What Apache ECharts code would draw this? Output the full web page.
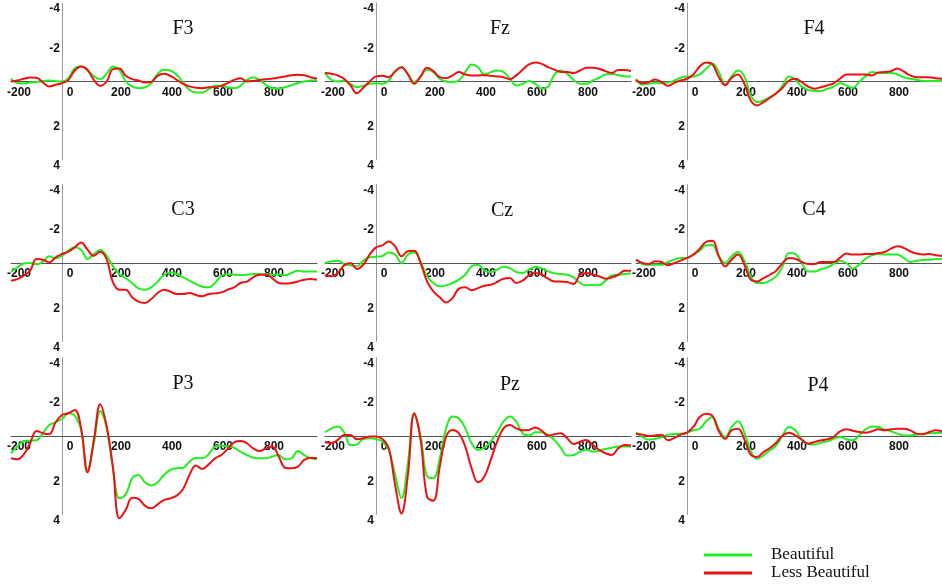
<!DOCTYPE html>
<html>
<head>
<meta charset="utf-8">
<script src="https://cdn.jsdelivr.net/npm/echarts@6/dist/echarts.min.js"></script>
<style>
  html, body { margin: 0; padding: 0; background: #fff; }
  #chart { width: 942px; height: 584px; }
</style>
</head>
<body>
<div id="chart"></div>
<script>
// time points (ms)
var times = [-200, -175, -150, -125, -100, -75, -50, -25, 0, 25, 50, 75, 100, 125, 150, 175, 200, 225, 250, 275, 300, 325, 350, 375, 400,
  425, 450, 475, 500, 525, 550, 575, 600, 625, 650, 675, 700, 725, 750, 775, 800, 825, 850, 875, 900, 925, 950, 975, 1000];
var xTicks = [-200, 0, 200, 400, 600, 800];
var yTicks = [-4, -2, 2, 4];
var groups = ['Beautiful', 'Less Beautiful'];

// amplitudes (uV)
var f3Beautiful = [-0.15,0.08,0.1,0.05,0.02,-0.03,-0.05,-0.02,0,-0.17,-0.68,-0.77,-0.56,-0.26,-0.12,-0.39,-0.77,-0.6,0,0.25,0.34,0.31,0.08,-0.39,-0.6,-0.56,-0.34,0.05,0.43,0.56,0.56,0.39,0.22,0.22,0.29,0.34,0.22,-0.08,-0.22,-0.08,0.17,0.34,0.36,0.29,0.19,0.08,0,-0.05,-0.07];
var f3Less = [0,-0.05,-0.14,-0.2,-0.19,0.05,0.25,0.17,0.08,-0.08,-0.56,-0.77,-0.6,-0.08,0.22,0,-0.63,-0.66,-0.29,-0.12,-0.05,0.05,0.02,-0.29,-0.39,-0.29,-0.08,0.12,0.25,0.32,0.34,0.29,0.29,0.22,0.08,-0.08,-0.17,0,-0.03,-0.08,-0.12,-0.15,-0.2,-0.26,-0.32,-0.34,-0.32,-0.22,-0.15];
var fzBeautiful = [-0.43,-0.09,0,-0.05,0.12,0.29,0.22,0.12,0.09,0.12,-0.05,-0.53,-0.73,-0.39,0.03,-0.26,-0.61,-0.48,-0.14,0,0.03,-0.05,-0.48,-0.87,-0.73,-0.36,-0.48,-0.56,-0.49,-0.14,0.2,0.12,-0.02,0.12,0.37,0.26,-0.36,-0.56,-0.39,-0.09,0.12,0.12,-0.05,-0.19,-0.36,-0.39,-0.32,-0.27,-0.26];
var fzLess = [-0.43,-0.39,-0.31,-0.14,0.2,0.6,0.32,0,-0.26,-0.29,-0.22,-0.51,-0.73,-0.36,0.12,-0.26,-0.7,-0.53,-0.22,-0.17,-0.31,-0.48,-0.36,-0.31,-0.31,-0.32,-0.29,-0.26,-0.22,-0.12,-0.31,-0.6,-0.87,-0.97,-0.9,-0.73,-0.6,-0.49,-0.48,-0.43,-0.56,-0.7,-0.7,-0.65,-0.53,-0.44,-0.59,-0.59,-0.53];
var f4Beautiful = [-0.12,0.15,0.12,0.07,0.09,0.05,-0.05,-0.19,-0.26,-0.26,-0.36,-0.65,-0.9,-0.48,0.15,-0.26,-0.56,-0.26,0.71,1.05,0.97,0.8,0.6,0.2,-0.26,-0.09,0.26,0.43,0.48,0.49,0.37,0.26,0.09,0.2,0.32,0.03,-0.26,-0.49,-0.43,-0.44,-0.44,-0.36,-0.22,-0.14,-0.09,-0.03,-0.03,-0.02,-0.02];
var f4Less = [-0.09,0.09,0.03,-0.1,0.03,0.22,0.07,-0.05,-0.14,-0.36,-0.77,-0.97,-0.87,-0.22,0.19,-0.19,-0.36,0.12,0.97,1.22,1.05,0.83,0.6,0.32,-0.05,-0.14,0.03,0.26,0.37,0.29,0.2,0.09,-0.14,-0.36,-0.36,-0.36,-0.36,-0.31,-0.46,-0.48,-0.53,-0.66,-0.51,-0.31,-0.22,-0.22,-0.22,-0.17,-0.14];
var c3Beautiful = [0.45,0.22,0.02,0,0.07,-0.07,-0.34,-0.24,-0.37,-0.63,-0.8,-0.68,-0.2,-0.46,-0.68,-0.37,0.17,0.56,0.78,1.02,1.29,1.36,1.24,0.95,0.61,0.48,0.56,0.73,0.9,1.07,1.21,1.24,1.02,0.65,0.58,0.6,0.61,0.6,0.56,0.56,0.58,0.6,0.58,0.63,0.51,0.39,0.44,0.44,0.43];
var c3Less = [0.9,0.82,0.65,0.39,-0.2,-0.17,-0.03,-0.29,-0.46,-0.58,-0.8,-1.05,-0.68,-0.37,-0.58,-0.2,0.99,1.36,1.36,1.75,1.97,2.04,1.84,1.53,1.36,1.46,1.58,1.58,1.53,1.63,1.7,1.58,1.55,1.5,1.36,1.24,1.02,0.95,0.73,0.6,0.6,0.78,1.02,1.05,1.02,0.94,0.85,0.82,0.85];
var czBeautiful = [0,-0.09,-0.12,0.05,0.12,0.17,-0.12,-0.29,-0.32,-0.36,-0.53,-0.43,0,-0.43,-0.53,-0.05,0.68,1.02,1.19,1.14,1.02,0.85,0.6,0.17,0.09,0.39,0.46,0.34,0.19,0.26,0.46,0.51,0.34,0.2,0.26,0.43,0.53,0.56,0.6,0.73,1.02,1.14,1.11,1.14,0.9,0.63,0.6,0.56,0.54];
var czLess = [0.6,0.68,0.51,0.12,0,0.31,0.09,-0.43,-0.8,-0.9,-1.1,-0.85,-0.34,-0.6,-0.63,0,0.94,1.45,1.75,2.01,1.79,1.31,1.24,1.39,1.28,1.16,1.11,0.97,0.8,0.77,1.02,0.9,0.63,0.51,0.6,0.8,0.94,0.94,0.97,1.07,0.6,0.51,0.6,0.68,0.8,0.73,0.6,0.39,0.39];
var c4Beautiful = [-0.17,0.05,0.09,0.09,0.09,-0.05,-0.17,-0.26,-0.26,-0.43,-0.63,-0.9,-0.9,-0.34,0,-0.34,-0.56,-0.12,0.68,1.02,1.02,0.9,0.68,0.17,-0.51,-0.46,0,0.43,0.43,0.32,0.22,0.05,-0.12,0,0.29,0.09,-0.22,-0.39,-0.46,-0.43,-0.43,-0.43,-0.26,-0.05,-0.12,-0.15,-0.17,-0.19,-0.2];
var c4Less = [-0.17,0,0.05,-0.09,-0.05,0.12,0,-0.12,-0.26,-0.43,-0.73,-1.08,-1.13,-0.34,0.17,-0.17,-0.43,0.09,0.85,0.94,0.77,0.6,0.39,0,-0.26,-0.22,-0.05,0.05,0.05,-0.05,-0.05,-0.05,-0.26,-0.49,-0.43,-0.43,-0.46,-0.46,-0.51,-0.56,-0.73,-0.85,-0.77,-0.6,-0.48,-0.43,-0.46,-0.39,-0.36];
var p3Beautiful = [0.88,0.54,0.26,0.24,0.22,-0.14,-0.56,-0.7,-0.87,-1.16,-1.04,-0.31,1.73,0.37,-1.28,-0.43,1.65,3.18,2.98,2.16,1.99,2.36,2.53,2.36,1.99,1.73,1.65,1.62,1.31,1.11,1.14,0.94,0.54,0.49,0.54,0.6,0.8,0.97,1.11,1.14,1.14,1.05,0.97,1.19,1.14,0.77,0.97,1.14,1.17];
var p3Less = [1.14,1.19,0.94,0.37,-0.26,-0.14,-0.09,-0.7,-1.07,-1.16,-1.33,-0.39,1.85,0.2,-1.62,-0.5,1.62,4.2,3.77,3.15,3.21,3.55,3.69,3.49,3.27,3.18,3.04,2.7,1.99,1.51,1.68,1.45,1.14,0.97,0.66,0.32,0.26,0.37,0.63,0.77,0.63,0.54,1.05,1.62,1.65,1.56,1.22,1.11,1.14];
var pzBeautiful = [-0.19,-0.39,-0.48,-0.19,0.46,0.43,0.15,0.12,0.15,0.29,0.71,1.99,3.18,1.4,-1.07,0,2.05,2.15,1.14,-0.39,-0.99,-0.9,-0.39,0.37,0.71,0.6,0.29,-0.19,-0.73,-0.99,-0.73,-0.14,-0.02,-0.19,-0.19,-0.05,0.2,0.6,1.0,0.97,0.8,0.7,0.8,0.75,0.66,0.6,0.54,0.54,0.54];
var pzLess = [0.29,0.37,0.2,-0.05,-0.05,0.17,0.12,0.03,0.03,0.15,0.63,2.5,3.95,2.0,-1.16,0.2,3.1,3.3,1.56,0.03,-0.31,-0.14,0.54,1.65,2.36,2.07,1.22,0.29,-0.39,-0.56,-0.39,-0.29,-0.31,-0.43,-0.26,-0.02,-0.09,-0.14,0.12,0.41,0.29,0.2,0.46,0.71,0.88,0.97,0.63,0.46,0.49];
var p4Beautiful = [-0.17,0.05,0.19,0.14,0.07,-0.07,-0.1,-0.12,-0.17,-0.29,-0.37,-0.75,-0.97,-0.34,0.05,-0.46,-0.75,-0.17,0.78,1.16,0.99,0.73,0.48,-0.03,-0.46,-0.29,0.17,0.41,0.44,0.34,0.27,0.14,0.05,0.17,0.22,-0.03,-0.34,-0.49,-0.46,-0.34,-0.24,-0.12,-0.03,-0.03,-0.07,-0.12,-0.14,-0.15,-0.17];
var p4Less = [-0.12,-0.07,0,-0.03,-0.07,0.22,0.1,-0.07,-0.17,-0.46,-0.97,-1.14,-1.02,-0.24,0.14,-0.29,-0.37,0.17,0.95,1.07,0.82,0.61,0.34,-0.03,-0.17,-0.03,0.19,0.39,0.31,0.22,0.17,0.05,-0.24,-0.34,-0.27,-0.2,-0.17,-0.24,-0.34,-0.29,-0.34,-0.37,-0.37,-0.29,-0.12,-0.09,-0.2,-0.29,-0.24];

var electrodes = ['F3', 'Fz', 'F4', 'C3', 'Cz', 'C4', 'P3', 'Pz', 'P4'];
var beautifulData = [f3Beautiful, fzBeautiful, f4Beautiful, c3Beautiful, czBeautiful, c4Beautiful, p3Beautiful, pzBeautiful, p4Beautiful];
var lessData = [f3Less, fzLess, f4Less, c3Less, czLess, c4Less, p3Less, pzLess, p4Less];

// layout (px)
var axisX = [62, 376, 687];      // where time 0 sits in each column
var zeroY = [81.5, 263, 436];    // where 0 uV sits in each row
var pxPerMs = 0.255, pxPerUv = 19.6;
var titleX = [183, 500, 814, 183, 502, 814, 183, 510, 818];
var titleY = [29, 29, 29, 210, 211, 210, 384, 385, 386];
var green = '#22ee22', red = '#ee1111';
var labelFont = { color: '#111', fontSize: 12, fontWeight: 'bold', fontFamily: 'Liberation Sans, Arial, sans-serif' };

var chart = echarts.init(document.getElementById('chart'));

var grids = [], xAxes = [], yAxes = [], series = [], titles = [];
var leftPx = -times[0] * pxPerMs;   // distance from grid left to time 0
electrodes.forEach(function (name, i) {
  var col = i % 3, row = Math.floor(i / 3);
  grids.push({
    left: axisX[col] - leftPx,
    width: (times[times.length - 1] - times[0]) * pxPerMs,
    top: zeroY[row] - 4 * pxPerUv,
    height: 8 * pxPerUv
  });
  // axes are pulled inward with a negative offset so they cross at (0 ms, 0 uV)
  xAxes.push({
    gridIndex: i, type: 'value', min: -200, max: 1000, interval: 200,
    position: 'bottom', offset: -4 * pxPerUv,
    axisLine: { show: true, onZero: false, lineStyle: { color: '#555', width: 1 } },
    axisTick: { show: false }, splitLine: { show: false },
    axisLabel: Object.assign({
      showMaxLabel: false, margin: 5, padding: [0, 0, 0, 16],
      formatter: function (v) { return xTicks.indexOf(v) >= 0 ? v : ''; }
    }, labelFont)
  });
  yAxes.push({
    gridIndex: i, type: 'value', inverse: true, min: -4, max: 4, interval: 2,
    position: 'left', offset: -leftPx,
    axisLine: { show: true, onZero: false, lineStyle: { color: '#999', width: 1 } },
    axisTick: { show: false }, splitLine: { show: false },
    axisLabel: Object.assign({
      margin: 2, verticalAlign: 'top',
      formatter: function (v) { return yTicks.indexOf(v) >= 0 ? v : ''; }
    }, labelFont)
  });
  [[groups[0], beautifulData[i], green], [groups[1], lessData[i], red]].forEach(function (s) {
    series.push({
      name: s[0], type: 'line', xAxisIndex: i, yAxisIndex: i,
      data: times.map(function (t, k) { return [t, s[1][k]]; }),
      smooth: 0.4, showSymbol: false, clip: false,
      lineStyle: { color: s[2], width: 2 }, itemStyle: { color: s[2] }
    });
  });
  titles.push({
    type: 'text', x: titleX[i], y: titleY[i],
    style: { text: name, fill: '#111', font: '20px "Liberation Serif", "Times New Roman", serif', align: 'center', verticalAlign: 'middle' }
  });
});

chart.setOption({
  animation: false,
  backgroundColor: '#fff',
  grid: grids,
  xAxis: xAxes,
  yAxis: yAxes,
  series: series,
  graphic: titles,
  legend: {
    data: groups, orient: 'vertical', left: 699, top: 541, height: 80,
    icon: 'rect', itemWidth: 48, itemHeight: 3, itemGap: 0,
    textStyle: { color: '#111', fontSize: 17, lineHeight: 18, fontFamily: '"Liberation Serif", "Times New Roman", serif', padding: [0, 0, 0, 14] }
  }
});
</script>
</body>
</html>
